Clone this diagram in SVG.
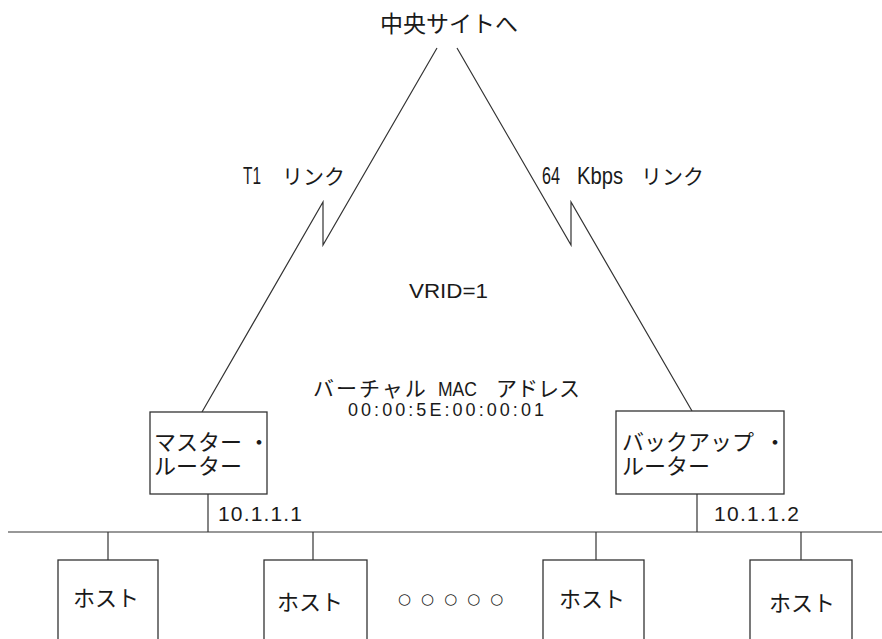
<svg xmlns="http://www.w3.org/2000/svg" width="882" height="639" viewBox="0 0 882 639">
<style>
text{font-family:"Liberation Sans","Noto Sans CJK JP",sans-serif;fill:#1a1a1a}
.jp{font-size:22px}
.box{fill:#fff;stroke:#333;stroke-width:1.3}
.ln{fill:none;stroke:#333;stroke-width:1.2}
</style>
<rect width="882" height="639" fill="#fff"/>
<g id="connectors">
<polyline class="ln" points="437,48 323,245 323,202 202,412"/>
<polyline class="ln" points="457,48 571,245 571,202 692,411"/>
<line class="ln" x1="8" y1="532" x2="882" y2="532"/>
<line class="ln" x1="208" y1="494" x2="208" y2="532"/>
<line class="ln" x1="697" y1="494" x2="697" y2="532"/>
<line class="ln" x1="108" y1="532" x2="108" y2="560"/>
<line class="ln" x1="313" y1="532" x2="313" y2="560"/>
<line class="ln" x1="596" y1="532" x2="596" y2="560"/>
<line class="ln" x1="801" y1="532" x2="801" y2="560"/>
</g>
<g id="labels">
<text x="449" y="32" font-size="23" text-anchor="middle">中央サイトへ</text>
<text y="184" font-size="21"><tspan x="243" font-size="24" textLength="18" lengthAdjust="spacingAndGlyphs">T1</tspan><tspan x="282">リンク</tspan></text>
<text y="184" font-size="21"><tspan x="542" font-size="24" textLength="18" lengthAdjust="spacingAndGlyphs">64</tspan><tspan x="577" font-size="24" textLength="46" lengthAdjust="spacingAndGlyphs">Kbps</tspan><tspan x="641">リンク</tspan></text>
<text x="409" y="298" font-size="21" textLength="79" lengthAdjust="spacingAndGlyphs">VRID=1</text>
<text y="396" font-size="21"><tspan x="313" letter-spacing="2">バーチャル</tspan><tspan x="438" textLength="39" lengthAdjust="spacingAndGlyphs">MAC</tspan><tspan x="496">アドレス</tspan></text>
<text x="348" y="416" font-size="18" textLength="196" lengthAdjust="spacing">00:00:5E:00:00:01</text>
<text x="218" y="521" font-size="21" textLength="84" lengthAdjust="spacing">10.1.1.1</text>
<text x="714" y="521" font-size="21" textLength="85" lengthAdjust="spacing">10.1.1.2</text>
<text x="398" y="604" font-size="15" letter-spacing="10" style="font-family:'DejaVu Sans',sans-serif">○○○○○</text>
</g>
<g id="master-router">
<rect class="box" x="150" y="412" width="117" height="82"/>
<text class="jp" y="450"><tspan x="154">マスター</tspan><tspan x="248">・</tspan></text>
<text class="jp" x="154" y="474">ルーター</text>
</g>
<g id="backup-router">
<rect class="box" x="616" y="411" width="168" height="83"/>
<text class="jp" y="450"><tspan x="622">バックアップ</tspan><tspan x="764">・</tspan></text>
<text class="jp" x="622" y="474">ルーター</text>
</g>
<g id="host1">
<rect class="box" x="58" y="560" width="100" height="90"/>
<text class="jp" x="73" y="606">ホスト</text>
</g>
<g id="host2">
<rect class="box" x="264" y="560" width="103" height="90"/>
<text class="jp" x="277" y="610">ホスト</text>
</g>
<g id="host3">
<rect class="box" x="543" y="560" width="101" height="90"/>
<text class="jp" x="559" y="607">ホスト</text>
</g>
<g id="host4">
<rect class="box" x="750" y="560" width="102" height="90"/>
<text class="jp" x="769" y="611">ホスト</text>
</g>
</svg>
